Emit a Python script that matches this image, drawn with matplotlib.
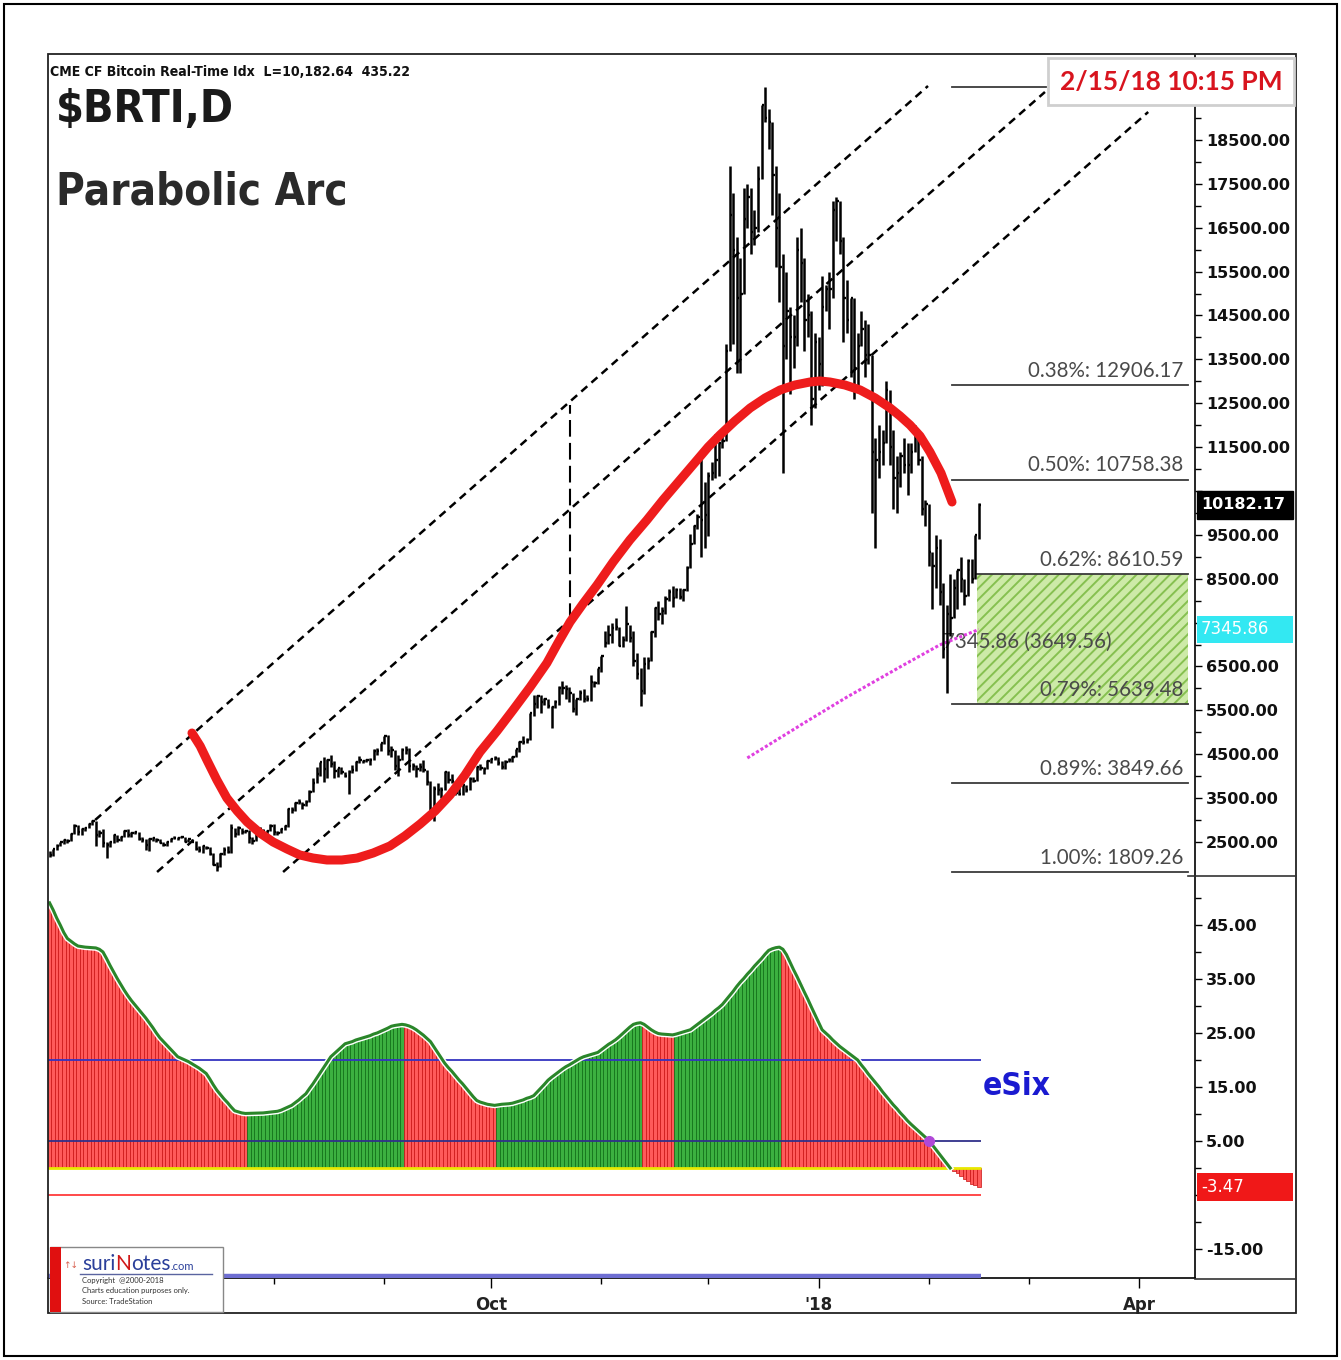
import numpy as np
import pandas as pd
import matplotlib
matplotlib.use("Agg")
import matplotlib.pyplot as plt
import matplotlib.dates as mdates
import matplotlib.transforms as mtransforms
import matplotlib.patheffects as pe
import matplotlib.font_manager as fm
from matplotlib.patches import Rectangle
from matplotlib.lines import Line2D
from matplotlib.ticker import FixedLocator, FuncFormatter

# ---------------- DATA ----------------
start_date = "2017-05-30"
ref_date = "2017-10-01"          # day offsets below are relative to this date

high = [2300, 2340,
        2450, 2500, 2570, 2560, 2700, 2900, 2880, 2820, 2840, 2930, 3000, 2980, 2780, 2790, 2500,
        2530, 2680, 2670, 2640, 2770, 2800, 2730, 2740, 2730, 2620, 2570, 2590, 2620, 2590, 2560,
        2510, 2520, 2600, 2640, 2620, 2630, 2620, 2570, 2570, 2520, 2410, 2430, 2420, 2380, 2240,
        2050, 2240, 2390, 2420, 2900, 2830, 2860, 2820, 2780, 2770, 2610, 2700, 2840, 2800, 2770, 2900,
        2920, 2760, 2820, 2880, 3280, 3290, 3420, 3480, 3420, 3450, 3690, 3960, 4200, 4330, 4440,
        4400, 4480, 4340, 4190, 4200, 4100, 4130, 4250, 4340, 4460, 4380, 4400, 4410, 4630, 4640, 4760,
        4920, 4950, 4690, 4590, 4480, 4650, 4680, 4640, 4300, 4250, 4310, 4360, 4150, 3890, 3770,
        3840, 3760, 4110, 4110, 4040, 3890, 3760, 3800, 3790, 3970, 3970, 4230, 4270, 4220, 4370,
        4410, 4470, 4430, 4350, 4360, 4420, 4460, 4620, 4800, 4920, 4860, 5440, 5850, 5840, 5840,
        5780, 5760, 5600, 5740, 6060, 6180, 6070, 6040, 5900, 5760, 5970, 5990, 5860, 6300, 6180, 6470,
        6750, 7300, 7440, 7480, 7600, 7400, 7200, 7880, 7450, 7300, 6800, 6470, 6720, 6720, 7320,
        7860, 8000, 7850, 8110, 8270, 8330, 8300, 8300, 8270, 8780, 9520, 9730, 9970, 11400, 10700,
        10940, 11150, 11800, 11620, 11900, 13850, 17900, 17300, 16300, 15800, 17400, 17500, 17400, 16900, 17900,
        19300, 19700, 19200, 18900, 17900, 17300, 15900, 15500, 14700, 14500, 16300, 16500, 15800, 15000, 14600, 14100,
        14000, 15400, 15200, 15500, 17100, 17200, 17100, 16300, 15300, 14900, 14900, 14100, 14600, 14400, 14300,
        13600, 11700, 12000, 11900, 13000, 12800, 11900, 11300, 11400, 11700, 11600, 11600, 12000, 11900, 11300, 10300,
        10200, 9100, 9500, 9400, 8400, 7900, 8600, 8500, 8700, 9000, 8500, 8950, 8950, 9500, 10220]

low = [2150, 2180,
       2320, 2400, 2450, 2480, 2520, 2690, 2650, 2660, 2760, 2820, 2880, 2400, 2620, 2380, 2130,
       2380, 2480, 2500, 2530, 2610, 2620, 2610, 2680, 2540, 2500, 2320, 2300, 2520, 2500, 2470,
       2400, 2400, 2500, 2560, 2540, 2580, 2490, 2490, 2500, 2310, 2270, 2250, 2340, 2200, 1970,
       1840, 1920, 2210, 2250, 2260, 2620, 2650, 2690, 2700, 2480, 2460, 2520, 2660, 2700, 2640, 2750,
       2650, 2670, 2700, 2770, 2850, 3170, 3200, 3370, 3250, 3330, 3420, 3650, 3850, 4000, 3860,
       3950, 4220, 3960, 3990, 4040, 3970, 3600, 4070, 4120, 4290, 4300, 4330, 4250, 4360, 4480, 4580,
       4740, 4480, 4430, 4140, 4000, 4380, 4510, 4100, 4140, 3970, 4120, 4100, 3800, 3220, 2980,
       3570, 3500, 3690, 3850, 3850, 3580, 3560, 3580, 3640, 3680, 3870, 3890, 4150, 4040, 4160,
       4290, 4370, 4260, 4170, 4170, 4320, 4320, 4430, 4560, 4730, 4750, 4820, 5380, 5560, 5450,
       5630, 5550, 5100, 5560, 5630, 5870, 5750, 5700, 5460, 5400, 5730, 5700, 5720, 5720, 6030, 6100,
       6370, 6950, 7020, 7030, 7340, 6960, 6950, 7080, 7050, 6500, 6220, 5600, 5880, 6440, 6630,
       7180, 7560, 7470, 7690, 7990, 7860, 8070, 8040, 8000, 8230, 8740, 9290, 9640, 9000, 9200,
       9480, 10740, 10800, 10850, 11480, 11650, 13700, 13850, 13200, 13200, 15000, 16500, 15900, 16100, 16400,
       17600, 18900, 18300, 16800, 15600, 14800, 10900, 13500, 12700, 13300, 13800, 14800, 13700, 14000, 12000, 12400,
       12800, 12900, 14600, 14200, 14900, 16200, 15900, 13900, 14100, 13100, 12600, 12800, 13800, 13100, 13400,
       10000, 9200, 10800, 11100, 11600, 11100, 10100, 10000, 10600, 10900, 10400, 10900, 11400, 11100, 9950, 9700,
       8800, 7800, 8300, 7900, 6700, 5900, 7200, 7600, 7800, 8200, 7900, 8100, 8400, 8500, 9400]

close = [2200, 2330,
         2420, 2490, 2540, 2520, 2690, 2870, 2730, 2800, 2820, 2920, 2980, 2660, 2710, 2470, 2440,
         2500, 2660, 2540, 2610, 2740, 2660, 2700, 2720, 2570, 2550, 2430, 2570, 2580, 2540, 2480,
         2430, 2500, 2570, 2600, 2600, 2610, 2500, 2560, 2500, 2330, 2320, 2400, 2360, 2230, 1970,
         1930, 2230, 2320, 2270, 2830, 2680, 2810, 2730, 2760, 2580, 2530, 2670, 2800, 2740, 2760, 2870,
         2720, 2710, 2800, 2860, 3260, 3220, 3380, 3420, 3340, 3420, 3650, 3850, 4060, 4320, 4160,
         4380, 4280, 4110, 4190, 4090, 4000, 4090, 4140, 4320, 4370, 4350, 4380, 4380, 4580, 4570, 4760,
         4920, 4580, 4590, 4230, 4380, 4600, 4600, 4230, 4230, 4160, 4200, 4150, 3870, 3240, 3700,
         3690, 3690, 4100, 3910, 3880, 3620, 3600, 3790, 3680, 3930, 3890, 4210, 4190, 4170, 4340,
         4400, 4410, 4310, 4210, 4320, 4370, 4440, 4610, 4770, 4780, 4820, 5430, 5640, 5820, 5690,
         5750, 5600, 5570, 5700, 6000, 6010, 5980, 5900, 5520, 5750, 5890, 5770, 5750, 6150, 6130, 6470,
         6740, 7030, 7210, 7380, 7410, 6960, 7100, 7460, 7140, 6620, 6340, 5950, 6560, 6630, 7280,
         7840, 7700, 7770, 8040, 8200, 8070, 8250, 8090, 8250, 8750, 9300, 9700, 9900, 9850, 9950,
         10850, 10900, 11200, 11600, 11650, 13700, 16800, 16000, 14900, 15000, 16700, 17200, 16400, 16500, 17600,
         19300, 19000, 18900, 17700, 16500, 15600, 13800, 14600, 14000, 14000, 16000, 15700, 14400, 14500, 12600, 13900,
         13400, 14700, 15100, 15100, 16900, 17100, 16200, 14900, 14400, 14900, 13300, 13800, 14200, 13600, 13600,
         11400, 11200, 11400, 11600, 12800, 11500, 10800, 10900, 11300, 11100, 11100, 11400, 11800, 11200, 10100, 10200,
         9100, 8800, 9200, 8200, 6900, 7700, 7600, 8300, 8700, 8500, 8100, 8900, 8500, 9500, 10182.17]

esix = [49.1, 47.8, 46.3, 45.0, 43.6, 42.5, 42.0, 41.5, 41.1, 41.0, 40.9, 40.85, 40.8, 40.75, 40.5, 40.0,
        38.8, 37.5, 36.3, 35.1, 34.0, 32.9, 31.9, 31.0, 30.2, 29.4, 28.6, 27.8,
        26.9, 26.0, 25.0, 24.1, 23.4, 22.7, 22.0, 21.3, 20.6, 20.3, 20.0, 19.7,
        19.3, 18.9, 18.5, 18.0, 17.5, 16.5, 15.4, 14.4, 13.6, 12.8, 12.1, 11.3, 10.6, 10.4, 10.2, 10.1,
        10.12, 10.14, 10.16, 10.18, 10.2, 10.27, 10.34, 10.42, 10.5, 10.7, 11.0, 11.3, 11.6,
        12.1, 12.6, 13.2, 13.75, 14.7, 15.6, 16.6, 17.6, 18.6, 19.6, 20.6, 21.2, 21.8, 22.4, 23.0,
        23.2, 23.4, 23.7, 23.9, 24.1, 24.3, 24.5, 24.8, 25.0, 25.3, 25.6, 25.9, 26.25, 26.4, 26.5, 26.6,
        26.5, 26.3, 26.0, 25.6, 25.1, 24.6, 24.0, 23.4, 22.4, 21.4, 20.4, 19.4,
        18.6, 17.9, 17.1, 16.3, 15.6, 14.8, 14.0, 13.2, 12.5, 12.2, 12.0, 11.8, 11.7, 11.6,
        11.7, 11.8, 11.85, 11.9, 12.0, 12.2, 12.4, 12.6, 12.9, 13.1, 13.4, 14.1, 14.8, 15.5, 16.25,
        16.8, 17.3, 17.8, 18.3, 18.75, 19.1, 19.5, 19.9, 20.3, 20.6, 20.8, 21.0, 21.2, 21.4,
        21.9, 22.4, 22.9, 23.3, 23.75, 24.3, 24.9, 25.5, 26.1, 26.6, 26.8, 26.9,
        26.6, 26.1, 25.6, 25.2, 24.9, 24.8, 24.75, 24.7, 24.65,
        24.8, 25.0, 25.2, 25.4, 25.6, 26.1, 26.6, 27.1, 27.6, 28.1, 28.6, 29.2, 29.7, 30.3,
        31.1, 31.9, 32.7, 33.6, 34.4, 35.1, 35.9, 36.6, 37.4, 38.1, 38.8, 39.6, 40.3, 40.6, 40.8, 40.9,
        40.5, 39.5, 38.1, 36.7, 35.4, 34.0, 32.6, 31.25, 29.8, 28.4, 27.0, 25.6,
        25.0, 24.4, 23.7, 23.1, 22.5, 22.0, 21.5, 21.0, 20.5, 20.0, 19.1, 18.3, 17.4, 16.6,
        15.8, 15.0, 14.1, 13.3, 12.5, 11.7, 11.0, 10.2, 9.5, 8.75, 8.1, 7.5, 6.9, 6.3, 5.7, 5.1,
        4.25, 3.4, 2.55, 1.7, 0.85, 0.0, -0.5, -1.0, -1.5, -2.0, -2.5, -2.9, -3.2, -3.47]

# 200-day average (magenta), Dec 12 2017 .. Feb 15 2018
ma_start = "2017-12-12"
ma200 = [4415, 4465, 4515, 4565, 4615, 4665, 4715, 4765, 4815, 4865, 4915, 4965, 5015, 5065, 5115,
         5167, 5216, 5265, 5314, 5363, 5412, 5461, 5510, 5559, 5608, 5657, 5706, 5755, 5804, 5850,
         5896, 5942, 5988, 6034, 6080, 6126, 6172, 6218, 6264, 6310, 6356, 6402, 6448, 6494,
         6539, 6584, 6629, 6674, 6719, 6764, 6809, 6854, 6899, 6944, 6990,
         7022, 7054, 7086, 7118, 7150, 7182, 7214, 7246, 7278, 7310, 7346]

# dashed parallel channel lines (day offset from ref_date, price)
chan_day0 = [-111.2, -93.8, -58.4]
chan_px0 = [3001, 1816, 1816]
chan_day1 = [122.75, 155.6, 184.6]
chan_px1 = [19731, 19594, 19138]

# red parabolic arc (day offset from ref_date, price)
arc_day = [-84.0, -81.7, -79.8, -77.0, -74.2, -71.3, -68.5, -64.9, -61.2, -57.3, -53.7, -50.0,
           -46.1, -41.9, -37.6, -33.1, -28.4, -24.2, -19.9, -15.7, -11.5, -7.3, -3.1, 1.7, 6.2,
           11.0, 15.7, 18.8, 22.2, 25.8, 29.8, 34.3, 39.0, 43.8, 48.3, 53.1, 57.9, 61.0, 64.3,
           68.5, 72.8, 77.0, 81.2, 85.4, 89.6, 92.4, 95.2, 99.4, 103.7, 107.9, 112.1, 114.9,
           117.7, 120.5, 123.3, 126.4, 129.5]
arc_px = [4984, 4688, 4369, 3913, 3503, 3207, 2956, 2705, 2500, 2340, 2204, 2135,
          2090, 2090, 2135, 2249, 2409, 2637, 2910, 3207, 3571, 4027, 4551, 5030, 5509,
          6033, 6580, 7036, 7514, 7925, 8358, 8882, 9383, 9839, 10295, 10751, 11207, 11503, 11776,
          12095, 12392, 12620, 12802, 12916, 12984, 13007, 12984, 12916, 12802, 12620, 12392, 12209,
          12004, 11754, 11389, 10910, 10249]

# bad-tick spike
spike_day = 22.2
spike_lo, spike_hi = 7566, 12464

# fibonacci levels
fib_levels = [19707.5, 12906.17, 10758.38, 8610.59, 5639.48, 3849.66, 1809.26]
fib_labels = ["", "0.38%: 12906.17", "0.50%: 10758.38", "0.62%: 8610.59",
              "0.79%: 5639.48", "0.89%: 3849.66", "1.00%: 1809.26"]
fib_day0 = [129.5, 129.5, 129.5, 136.5, 129.5, 129.5, 129.5]
fib_day1 = [156.0, 195.8, 195.8, 195.8, 195.8, 195.8, 195.8]
zone_day = [136.5, 195.8]
zone_px = [5639.48, 8610.59]

ma_label = "7345.86 (3649.56)"
ma_label_day, ma_label_px = 127.0, 7060
last_price_label = "10182.17"
ma_value_label = "7345.86"
esix_last_label = "-3.47"
cross_idx = 247
esix_levels = [20, 5, 0, -5, -20]

price_ticks = list(range(2500, 19500, 1000))
hidden_price_ticks = [7500, 10500]
esix_ticks = [-15, -5, 5, 15, 25, 35, 45]
hidden_esix_ticks = [-5]
x_tick_dates = ["2017-10-01", "2018-01-01", "2018-04-01"]
x_tick_labels = ["Oct", "'18", "Apr"]

# ---------------- FONTS ----------------
def _wnum(w):
    if isinstance(w, (int, float)):
        return w
    return fm.weight_dict.get(str(w).lower(), 400)

_best = None
for f in fm.fontManager.ttflist:
    nm = f.name
    narrowish = ("Narrow" in nm or "Condensed" in nm or
                 str(f.stretch) in ("condensed", "extra-condensed", "semi-condensed"))
    if not narrowish or _wnum(f.weight) < 600 or str(f.style) != "normal":
        continue
    score = 0
    if "Narrow" in nm or str(f.stretch) in ("condensed", "extra-condensed"):
        score += 2
    if _best is None or score > _best[0]:
        _best = (score, f.fname)
if _best is not None:
    cond_kw = dict(fontproperties=fm.FontProperties(fname=_best[1]))
else:
    cond_kw = dict(family="DejaVu Sans", fontweight="bold")

# ---------------- FIGURE ----------------
W, H = 1341, 1360
fig = plt.figure(figsize=(W / 100, H / 100), dpi=100)
fig.patch.set_facecolor("white")
renderer = fig.canvas.get_renderer()
plt.rcParams["hatch.linewidth"] = 1.4

def fx(x):
    return x / W

def fy(y):
    return 1 - y / H

def fit_text(t, target_w, max_size):
    t.set_fontsize(20)
    w = t.get_window_extent(renderer=renderer).width
    t.set_fontsize(min(max_size, 20 * target_w / w))
    return t

ax = fig.add_axes([fx(48), fy(876), (1195 - 48) / W, (876 - 55) / H])
ax2 = fig.add_axes([fx(48), fy(1278), (1195 - 48) / W, (1278 - 876) / H], sharex=ax)

dates = pd.date_range(start_date, periods=len(close), freq="D")
xd = mdates.date2num(dates)
base = mdates.date2num(pd.Timestamp(ref_date))

def dday(d):
    return base + np.asarray(d, dtype=float)

# price bars (high-low-close)
ax.vlines(xd, low, high, colors="black", lw=1.8, zorder=4)
ax.hlines(close, xd, xd + 0.65, colors="black", lw=1.7, zorder=4)

# channel
for d0, p0, d1, p1 in zip(chan_day0, chan_px0, chan_day1, chan_px1):
    ax.plot(dday([d0, d1]), [p0, p1], color="black", lw=1.8,
            ls=(0, (3.2, 2.2)), zorder=3)

# spike
ax.vlines(dday(spike_day), spike_lo, spike_hi, colors="black", lw=1.5,
          linestyles=(0, (8, 3)), zorder=4)

# fib zone
ax.add_patch(Rectangle((dday(zone_day[0]), zone_px[0]), zone_day[1] - zone_day[0],
                       zone_px[1] - zone_px[0], facecolor="#cdeaa8", edgecolor="#86c050",
                       hatch="///", lw=0, zorder=1))

for lev, lab, d0, d1 in zip(fib_levels, fib_labels, fib_day0, fib_day1):
    ax.plot(dday([d0, d1]), [lev, lev], color="#3a3a3a", lw=1.3, zorder=2)
    if lab:
        ax.annotate(lab, (dday(d1 - 1.4), lev), xytext=(0, 3), textcoords="offset points",
                    ha="right", va="bottom", fontsize=14.8, family=["Lato", "DejaVu Sans"],
                    color="#4a4a4a", zorder=2)

ax.text(dday(ma_label_day), ma_label_px, ma_label, fontsize=14.8, family=["Lato", "DejaVu Sans"],
        color="#4a4a4a", ha="left", va="center", zorder=2)

# 200-day average
ma_dates = mdates.date2num(pd.date_range(ma_start, periods=len(ma200), freq="D"))
ax.plot(ma_dates, ma200, color="#e040e0", lw=2.2, ls=(0, (1, 0.7)), zorder=3)

# red arc
ax.plot(dday(arc_day), arc_px, color="#ee1c1c", lw=6.5, solid_capstyle="round",
        solid_joinstyle="round", zorder=5)

# axes styling (price)
for s in ["top", "left", "bottom"]:
    ax.spines[s].set_visible(False)
ax.spines["right"].set_linewidth(1.2)
ax.yaxis.set_ticks_position("right")
ax.yaxis.set_major_locator(FixedLocator(price_ticks))
ax.yaxis.set_minor_locator(FixedLocator([t + 500 for t in price_ticks]))
ax.yaxis.set_major_formatter(FuncFormatter(
    lambda v, p: "" if round(v) in hidden_price_ticks else f"{v:.2f}"))
ax.tick_params(axis="y", which="major", direction="out", length=5, width=1, pad=3,
               labelsize=11.5, labelcolor="#111111")
ax.tick_params(axis="y", which="minor", direction="out", length=4, width=1)
for t in ax.get_yticklabels():
    t.set_fontweight("bold")
ax.tick_params(axis="x", which="both", bottom=False, labelbottom=False)
ax.set_ylim(1725, 20437)

# right-margin value boxes (price)
btr = mtransforms.blended_transform_factory(ax.transAxes, ax.transData)
bx0, bw = 1.0017, 96 / 1147
ax.add_patch(Rectangle((bx0, 10182.17 - 320), bw, 640, transform=btr, facecolor="black",
                       edgecolor="black", clip_on=False, zorder=10))
ax.text(bx0 + 0.004, 10182.17, last_price_label, transform=btr, color="white", fontsize=11.5,
        fontweight="bold", va="center", ha="left", clip_on=False, zorder=11)
ax.add_patch(Rectangle((bx0, 7345.86 - 300), bw, 600, transform=btr, facecolor="#33e8f2",
                       edgecolor="none", clip_on=False, zorder=10))
ax.text(bx0 + 0.003, 7345.86, ma_value_label, transform=btr, color="white", fontsize=12,
        va="center", ha="left", clip_on=False, zorder=11)

# ---------------- eSix panel ----------------
esix_arr = np.asarray(esix)
rising = np.r_[False, np.diff(esix_arr) > 0]
cols = np.where(rising, "#3cb040", "#ff5a5a")
ecols = np.where(rising, "#0c6a12", "#c81010")
ax2.bar(xd, esix_arr, width=1.0, color=cols, edgecolor=ecols, linewidth=0.5, zorder=2)

lev_cols = ["#3434c0", "#30308a", "#e8e800", "#ff3a3a", "#6e6ed2"]
lev_lw = [1.3, 1.3, 2.0, 1.3, 3.2]
for lv, c, lw in zip(esix_levels, lev_cols, lev_lw):
    ax2.hlines(lv, xd[0] - 0.5, xd[-1] + 0.5, colors=c, lw=lw, zorder=3)

pos = esix_arr >= 0
ax2.plot(xd[pos], esix_arr[pos], color="#2a862a", lw=2.2, zorder=4,
         path_effects=[pe.Stroke(linewidth=4.2, foreground="white"), pe.Normal()])
ax2.plot(xd[cross_idx], 5, "o", color="#b048d8", ms=7, zorder=5)

esix_t = ax2.text(dday(138.0), 15, "eSix", color="#1a1ad0", va="center", ha="left",
                  zorder=6, **cond_kw)
fit_text(esix_t, 68, 32)

for s in ["top", "left"]:
    ax2.spines[s].set_visible(False)
ax2.spines["right"].set_linewidth(1.2)
ax2.spines["bottom"].set_linewidth(1.2)
ax2.yaxis.set_ticks_position("right")
ax2.yaxis.set_major_locator(FixedLocator(esix_ticks))
ax2.yaxis.set_minor_locator(FixedLocator([t + 5 for t in esix_ticks]))
ax2.yaxis.set_major_formatter(FuncFormatter(
    lambda v, p: "" if round(v) in hidden_esix_ticks else f"{v:.2f}"))
ax2.tick_params(axis="y", which="major", direction="out", length=5, width=1, pad=3,
                labelsize=11.5, labelcolor="#111111")
ax2.tick_params(axis="y", which="minor", direction="out", length=4, width=1)
for t in ax2.get_yticklabels():
    t.set_fontweight("bold")
ax2.set_ylim(-20.37, 54.07)

ax2.xaxis.set_major_locator(FixedLocator(mdates.date2num(pd.to_datetime(x_tick_dates))))
ax2.set_xticklabels(x_tick_labels)
ax2.xaxis.set_minor_locator(mdates.MonthLocator())
ax2.tick_params(axis="x", which="major", direction="out", length=7, width=1, pad=6,
                labelsize=12, labelcolor="#222222")
ax2.tick_params(axis="x", which="minor", direction="out", length=4, width=1)
for t in ax2.get_xticklabels():
    t.set_fontweight("bold")

btr2 = mtransforms.blended_transform_factory(ax2.transAxes, ax2.transData)
ax2.add_patch(Rectangle((bx0, esix_arr[-1] - 2.6), bw, 5.2, transform=btr2, facecolor="#f01818",
                        edgecolor="none", clip_on=False, zorder=10))
ax2.text(bx0 + 0.004, esix_arr[-1], esix_last_label, transform=btr2, color="white", fontsize=12,
         va="center", ha="left", clip_on=False, zorder=11)

ax.set_xlim(base - 124.44, base + 197.75)

# ---------------- frame & annotations ----------------
fig.patches.append(Rectangle((fx(4), fy(1356)), 1333 / W, 1352 / H, transform=fig.transFigure,
                             fill=False, edgecolor="black", lw=1.5, zorder=0))
fig.patches.append(Rectangle((fx(48), fy(1313)), 1248 / W, 1259 / H, transform=fig.transFigure,
                             fill=False, edgecolor="#222222", lw=1.3, zorder=0))
fig.lines.append(Line2D([fx(1188), fx(1296)], [fy(876), fy(876)], transform=fig.transFigure,
                        color="#333333", lw=1.2))
fig.lines.append(Line2D([fx(1195), fx(1296)], [fy(1278.5), fy(1278.5)], transform=fig.transFigure,
                        color="#333333", lw=1.2))

t1 = fig.text(fx(50), fy(72), "CME CF Bitcoin Real-Time Idx  L=10,182.64  435.22",
              va="center", ha="left", color="#111111", **cond_kw)
fit_text(t1, 360, 15)
t2 = fig.text(fx(56), fy(110), "$BRTI,D", va="center", ha="left", color="#1a1a1a", **cond_kw)
fit_text(t2, 178, 48)
t3 = fig.text(fx(56), fy(192), "Parabolic Arc", va="center", ha="left", color="#2a2a2a", **cond_kw)
fit_text(t3, 292, 48)

# date box
fig.patches.append(Rectangle((fx(1048), fy(105)), 246 / W, 47 / H, transform=fig.transFigure,
                             facecolor="white", edgecolor="#cfcfcf", lw=2, zorder=5))
fig.text(fx(1171), fy(82), "2/15/18 10:15 PM", family=["Lato", "DejaVu Sans"], fontweight="bold",
         fontsize=19, color="#d8141e", ha="center", va="center", zorder=6)

# logo
fig.patches.append(Rectangle((fx(50), fy(1312)), 173 / W, 65 / H, transform=fig.transFigure,
                             facecolor="white", edgecolor="#888888", lw=1, zorder=5))
fig.patches.append(Rectangle((fx(50), fy(1312)), 11 / W, 65 / H, transform=fig.transFigure,
                             facecolor="#e01010", edgecolor="none", zorder=6))
fig.text(fx(63), fy(1265), "\u2191\u2193", fontsize=6.5, color="#d86050", va="center", ha="left",
         zorder=6)
xcur = fx(82)
for part, col, sz in [("suri", "#2a3f9a", 15), ("N", "#d01818", 15), ("otes", "#2a3f9a", 15),
                      (".com", "#2a3f9a", 8)]:
    t = fig.text(xcur, fy(1270), part, family=["Lato", "DejaVu Sans"], fontsize=sz, color=col,
                 va="baseline", ha="left", zorder=6)
    bb = t.get_window_extent(renderer=renderer)
    xcur = xcur + bb.width / W
fig.lines.append(Line2D([fx(80), fx(212)], [fy(1274), fy(1274)], transform=fig.transFigure,
                        color="#5a64a0", lw=1, zorder=6))
for yy, s in [(1281, "Copyright  @2000-2018"), (1291, "Charts education purposes only."),
              (1301, "Source: TradeStation")]:
    fig.text(fx(82), fy(yy), s, fontsize=5.5, color="#333333", va="center", ha="left",
             family=["Lato", "DejaVu Sans"], zorder=6)

fig.savefig("out.png", dpi=100, facecolor="white")
